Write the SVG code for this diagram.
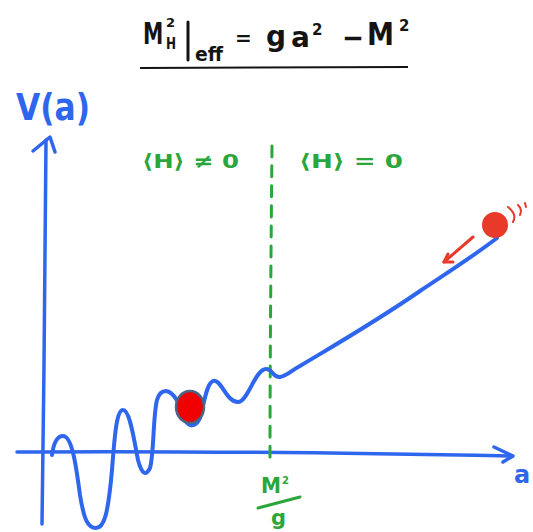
<svg xmlns="http://www.w3.org/2000/svg" width="533" height="532" viewBox="0 0 533 532">
<style>
.t{font-family:"DejaVu Sans","Liberation Sans",sans-serif;fill:#141414;font-weight:bold}
.b{fill:none;stroke:#2f66ee;stroke-linecap:round;stroke-linejoin:round}
.g{font-family:"DejaVu Sans","Liberation Sans",sans-serif;fill:#2aa63a;font-weight:bold}
.gs{fill:none;stroke:#2aa63a;stroke-linecap:round}
.r{fill:none;stroke:#e8392a;stroke-linecap:round;stroke-linejoin:round}
</style>
<rect width="533" height="532" fill="#ffffff"/>
<g id="title">
<text class="t" transform="translate(143,44) scale(0.68,1)" font-size="30">M</text>
<text class="t" x="166" y="27" font-size="13">2</text>
<text class="t" transform="translate(166,49) scale(0.8,1)" font-size="15">H</text>
<path d="M188,22 L188,60" fill="none" stroke="#141414" stroke-width="3" stroke-linecap="round"/>
<text class="t" x="195" y="61" font-size="19" textLength="28" lengthAdjust="spacingAndGlyphs">eff</text>
<text class="t" x="235" y="45" font-size="20">=</text>
<text class="t" x="266" y="46" font-size="28">g</text>
<text class="t" x="291" y="47" font-size="28">a</text>
<text class="t" x="312" y="35" font-size="15">2</text>
<text class="t" x="342" y="48" font-size="30" textLength="22" lengthAdjust="spacingAndGlyphs">−</text>
<text class="t" x="367" y="45" font-size="32" textLength="27" lengthAdjust="spacingAndGlyphs">M</text>
<text class="t" x="399" y="31" font-size="15">2</text>
<path d="M140,68 L408,67" fill="none" stroke="#141414" stroke-width="2"/>
</g>
<g id="axes">
<text x="16" y="120" font-family="DejaVu Sans,Liberation Sans,sans-serif" font-weight="bold" font-size="38" fill="#2f66ee" textLength="74" lengthAdjust="spacingAndGlyphs">V(a)</text>
<path class="b" stroke-width="3.5" d="M46,140 C45,250 44,400 42,524"/>
<path class="b" stroke-width="3.5" d="M33,151 L50,137 L55,152"/>
<path class="b" stroke-width="3.5" d="M17,452 C150,451 300,452 512,456"/>
<path class="b" stroke-width="3.5" d="M494,447 L513,456 L503,462"/>
<text x="514" y="483" font-family="DejaVu Sans,Liberation Sans,sans-serif" font-weight="bold" font-size="24" fill="#2f66ee">a</text>
</g>
<g id="separator">
<path class="gs" stroke-width="3" stroke-dasharray="11 9" d="M272,146 C271,250 270,360 270,462"/>
<text class="g" x="142" y="168" font-size="20" textLength="97" lengthAdjust="spacingAndGlyphs">⟨H⟩ ≠ 0</text>
<text class="g" x="299" y="168" font-size="20" textLength="104" lengthAdjust="spacingAndGlyphs">⟨H⟩ = 0</text>
<text class="g" x="261" y="493" font-size="21" textLength="20" lengthAdjust="spacingAndGlyphs">M</text>
<text class="g" x="282" y="484" font-size="10">2</text>
<path class="gs" stroke-width="3" d="M258,508 L300,497"/>
<text class="g" x="271" y="525" font-size="21">g</text>
</g>
<g id="potential">
<path class="b" stroke-width="4" d="M52,455 C54,440 58,436 63,436 C72,436 76,465 80,495 C84,520 88,528 96,528 C104,528 108,515 112,470 C115,430 117,410 123,410 C130,410 134,440 138,460 C142,475 146,476 150,468 C154,455 153,415 157,400 C159,393 162,391 166,391 C176,392 181,410 185,420 C189,427 195,428 200,418 C204,405 206,384 213,381 C221,378 226,402 238,402 C248,402 255,369 266,369 C273,369 273,378 280,377 C287,376 292,370 300,366 C340,342 375,322 420,291 C450,271 475,255 497,238"/>
</g>
<g id="ball-low">
<ellipse cx="190" cy="407" rx="14" ry="16" fill="#f00000" stroke="#4a6585" stroke-width="2.5"/>
</g>
<g id="ball-high">
<circle cx="495" cy="225" r="13" fill="#e8392a"/>
<path class="r" stroke-width="2" d="M508,207 C514,212 516,216 513,222"/>
<path class="r" stroke-width="2" d="M518,205 C521,208 522,211 520,215"/>
<path class="r" stroke-width="2" d="M525,203 L526,207"/>
<path class="r" stroke-width="3" d="M473,237 L444,262"/>
<path class="r" stroke-width="3" d="M448,254 L444,262 L453,262"/>
</g>
</svg>
